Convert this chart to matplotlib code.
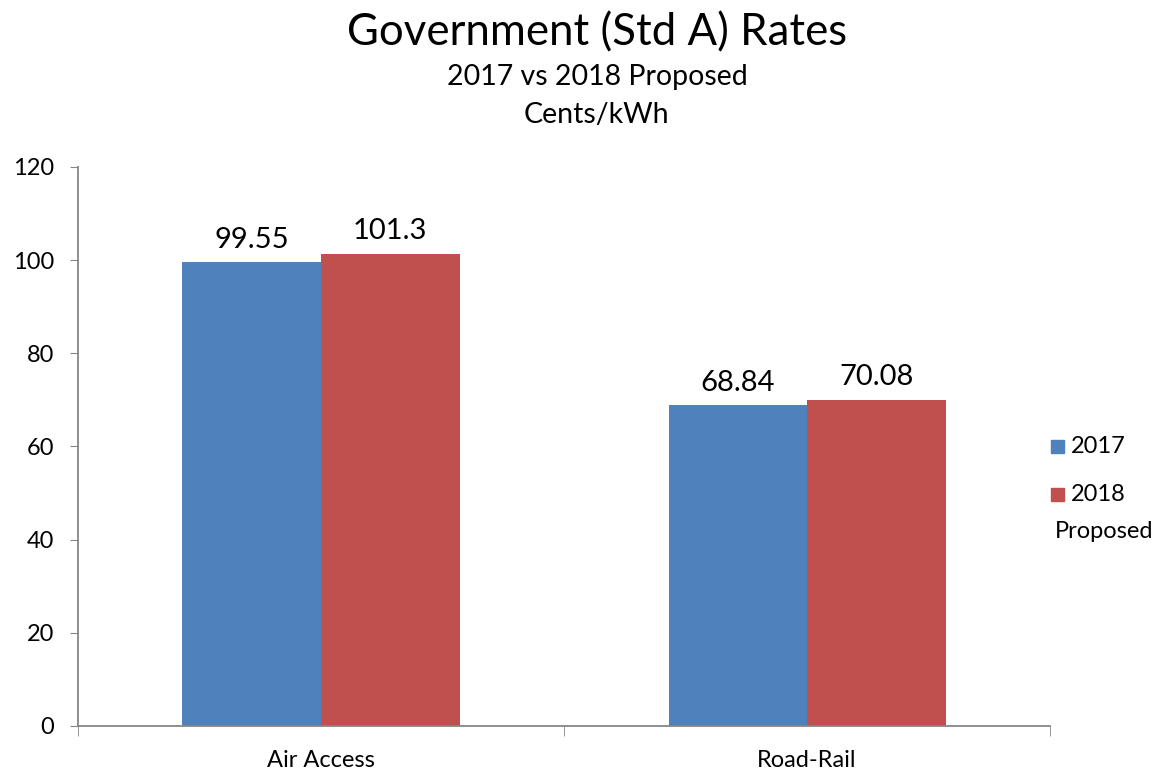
import matplotlib
matplotlib.use('Agg')
import matplotlib.pyplot as plt
import numpy as np
from matplotlib.patches import Rectangle

plt.rcParams['font.family'] = ['Lato', 'DejaVu Sans']

categories = ["Air Access", "Road-Rail"]
series_names = ["2017", "2018"]
rates_2017 = [99.55, 68.84]
rates_2018 = [101.3, 70.08]
label_2017 = ["99.55", "68.84"]
label_2018 = ["101.3", "70.08"]
y_ticks = [0, 20, 40, 60, 80, 100, 120]

BLUE = '#4F81BD'
RED = '#C0504D'
AXIS = '#868686'

fig = plt.figure(figsize=(11.59, 7.71), dpi=100)
ax = fig.add_axes([0.0673, 0.0584, 0.8387, 0.725])

x = np.arange(len(categories))
w = 0.285
b1 = ax.bar(x - w / 2, rates_2017, w, color=BLUE)
b2 = ax.bar(x + w / 2, rates_2018, w, color=RED)

for bars, labels in ((b1, label_2017), (b2, label_2018)):
    for bar, lab in zip(bars, labels):
        ax.annotate(lab, (bar.get_x() + bar.get_width() / 2, bar.get_height()),
                    xytext=(0, 7), textcoords='offset points',
                    ha='center', va='bottom', fontsize=21)

ax.set_xlim(-0.5, len(categories) - 0.5)
ax.set_ylim(0, 120)
ax.set_yticks(y_ticks)
ax.tick_params(axis='y', labelsize=17, length=6, color=AXIS, pad=11)

# category labels centred, tick marks on the boundaries
ax.set_xticks(x)
ax.set_xticklabels(categories, fontsize=17)
ax.set_xticks(np.arange(len(categories) + 1) - 0.5, minor=True)
ax.tick_params(axis='x', which='major', length=0, pad=17)
ax.tick_params(axis='x', which='minor', length=7, color=AXIS)

for side in ('top', 'right'):
    ax.spines[side].set_visible(False)
for side in ('left', 'bottom'):
    ax.spines[side].set_color(AXIS)
    ax.spines[side].set_linewidth(1.3)

fig.text(0.515, 0.958, "Government (Std A) Rates", ha='center', va='center', fontsize=31.5)
fig.text(0.515, 0.900, "2017 vs 2018 Proposed", ha='center', va='center', fontsize=20.5)
fig.text(0.515, 0.851, "Cents/kWh", ha='center', va='center', fontsize=20.5)

# legend drawn by hand so "Proposed" wraps under the swatch
for i, (name, col) in enumerate(zip(series_names, (BLUE, RED))):
    yc = 1 - (446 + 48 * i) / 771
    fig.patches.append(Rectangle((1051 / 1159, yc - 6.5 / 771), 13 / 1159, 13 / 771,
                                 transform=fig.transFigure, color=col))
    fig.text(1071 / 1159, yc, name, ha='left', va='center', fontsize=17)
fig.text(1055 / 1159, 1 - 532 / 771, "Proposed", ha='left', va='center', fontsize=17)

fig.savefig('out.png', dpi=100)
